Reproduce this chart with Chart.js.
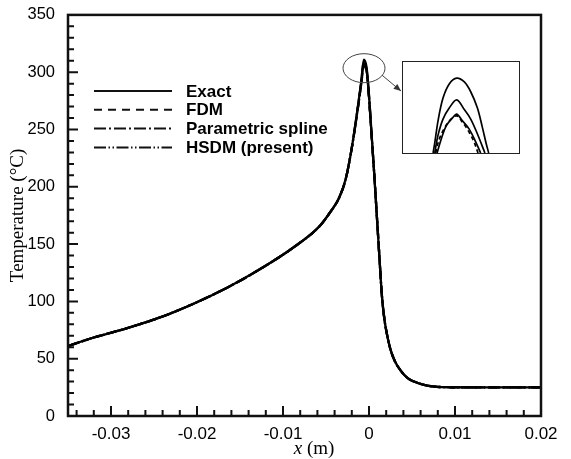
<html lang="en">
  <head>
    <meta charset="utf-8">
    <title>Temperature profile</title>
    <style>
      body { margin: 0; background: white; }
      .chartBox { position: relative; width: 571px; height: 459px; background: white; }
      .insetBox {
        position: absolute; left: 402px; top: 61px;
        width: 116px; height: 91px;
        border: 1.5px solid #222; background: white;
      }
    </style>
  </head>
  <body>
    <div class="chartBox">
      <canvas id="myChart" width="571" height="459"></canvas>
      <div class="insetBox"><canvas id="insetChart" width="116" height="91"></canvas></div>
    </div>

    <script src="https://cdn.jsdelivr.net/npm/chart.js/dist/chart.umd.min.js"></script>
    <script>
    // data
    const xs = [-0.035, -0.032, -0.0282, -0.0243, -0.0204, -0.0165, -0.0127, -0.0088, -0.0057, -0.0045,
                -0.0035, -0.0027, -0.0020, -0.0014, -0.0009, -0.0006, -0.0003, -0.0001, 0.0003, 0.0006,
                0.0009, 0.0012, 0.0015, 0.0018, 0.0021, 0.0025, 0.0030, 0.0036, 0.0045, 0.0056,
                0.0068, 0.0079, 0.0095, 0.012, 0.016, 0.020];
    const exact = [61, 68.5, 76.5, 86, 98, 112, 128, 147, 166, 178,
                   190, 207, 234, 264, 292, 311, 305, 290, 246, 212,
                   176, 140, 105, 84, 71, 58, 48, 40.5, 33, 29,
                   26.5, 25.5, 25.1, 25, 25, 25];
    const fdm = [61, 68.5, 76.5, 86, 98, 112, 128, 147, 166, 178,
                 190, 207, 234, 263, 290, 306, 301, 287, 245, 212,
                 176, 140, 105, 84, 71, 58, 48, 40.5, 33, 29,
                 26.5, 25.5, 25.1, 25, 25, 25];
    const spline = [61, 68.5, 76.5, 86, 98, 112, 128, 147, 166, 178,
                    190, 207, 234, 264, 291, 309, 303, 289, 246, 212,
                    176, 140, 105, 84, 71, 58, 48, 40.5, 33, 29,
                    26.5, 25.5, 25.1, 25, 25, 25];
    const hsdm = [61, 68.5, 76.5, 86, 98, 112, 128, 147, 166, 178,
                  190, 207, 234, 263, 290, 307, 302, 288, 245, 212,
                  176, 140, 105, 84, 71, 58, 48, 40.5, 33, 29,
                  26.5, 25.5, 25.1, 25, 25, 25];
    const labels = ['Exact', 'FDM', 'Parametric spline', 'HSDM (present)'];
    const xTicks = [-0.03, -0.02, -0.01, 0, 0.01, 0.02];
    const yTicks = [0, 50, 100, 150, 200, 250, 300, 350];

    // zoomed peak (inset)
    const insetExactX = [-0.00173, -0.00166, -0.00152, -0.00131, -0.00104, -0.00073, -0.00041, -0.00014, 0.00014, 0.00035, 0.00051, 0.00062];
    const insetExactY = [291, 293.8, 300.2, 306.7, 310.8, 312.4, 311.3, 308.5, 303.9, 298.4, 293.8, 291];
    const insetSplineX = [-0.00166, -0.00152, -0.00131, -0.00104, -0.00073, -0.00041, -0.00014, 0.00014, 0.00046];
    const insetSplineY = [291, 296.1, 300.7, 303.9, 306.2, 303.4, 300.7, 296.5, 291];
    const insetHsdmX = [-0.00156, -0.00138, -0.00117, -0.0009, -0.00073, -0.00049, -0.00021, 0.00007, 0.00028];
    const insetHsdmY = [291, 295.1, 298.8, 301.1, 302.1, 300.2, 297.9, 294.2, 291];
    const insetFdmX = [-0.00162, -0.00148, -0.00124, -0.00097, -0.00073, -0.00049, -0.00021, 0, 0.00017];
    const insetFdmY = [291, 294.7, 298.2, 300.7, 301.6, 299.8, 297, 294.2, 291];

    const dashes = [[], [8, 6], [12, 3, 2, 3], [12, 2.5, 1.5, 2.5, 1.5, 2.5]];
    const pts = (a, b) => a.map((x, i) => ({x: x, y: b[i]}));

    Chart.defaults.color = '#000';
    Chart.defaults.font.family = '"Liberation Sans", Arial, sans-serif';

    // ticks, frame, legend, circle and arrow
    const decor = {
      id: 'decor',
      afterDraw(chart) {
        const {ctx, chartArea: a, scales: {x, y}} = chart;
        ctx.save();
        ctx.strokeStyle = '#111';
        ctx.lineWidth = 2.5;
        ctx.strokeRect(a.left, a.top, a.right - a.left, a.bottom - a.top);

        ctx.lineWidth = 2;
        ctx.beginPath();
        for (let v = 0; v <= 350; v += 10) {
          const p = y.getPixelForValue(v), len = v % 50 === 0 ? 10 : 6;
          ctx.moveTo(a.left, p); ctx.lineTo(a.left + len, p);
        }
        for (let k = -34; k <= 20; k += 2) {
          const p = x.getPixelForValue(k / 1000), len = k % 10 === 0 ? 10 : 6;
          ctx.moveTo(p, a.bottom); ctx.lineTo(p, a.bottom - len);
        }
        ctx.stroke();

        // x title with italic x
        ctx.fillStyle = '#000';
        ctx.textBaseline = 'alphabetic';
        const serif = '"Liberation Serif", "Times New Roman", serif';
        ctx.font = 'italic 19px ' + serif;
        const w1 = ctx.measureText('x').width;
        ctx.font = '19px ' + serif;
        const w2 = ctx.measureText(' (m)').width;
        const x0 = 314 - (w1 + w2) / 2;
        ctx.font = 'italic 19px ' + serif;
        ctx.fillText('x', x0, 454);
        ctx.font = '19px ' + serif;
        ctx.fillText(' (m)', x0 + w1, 454);

        // legend
        ctx.font = 'bold 17px "Liberation Sans", Arial, sans-serif';
        ctx.textBaseline = 'middle';
        labels.forEach((t, i) => {
          const yy = 91 + i * 18.8;
          ctx.setLineDash(dashes[i]);
          ctx.lineWidth = 2;
          ctx.beginPath(); ctx.moveTo(94, yy); ctx.lineTo(172, yy); ctx.stroke();
          ctx.setLineDash([]);
          ctx.fillText(t, 186, yy + 1);
        });

        // circle around the peak and arrow to the inset
        const cx = x.getPixelForValue(-0.00058), cy = y.getPixelForValue(303.5);
        ctx.lineWidth = 1;
        ctx.strokeStyle = '#444';
        ctx.beginPath(); ctx.ellipse(cx, cy, 21, 14.5, 0, 0, Math.PI * 2); ctx.stroke();
        const ax = cx + 18, ay = cy + 7, bx = 401, by = 91;
        ctx.beginPath(); ctx.moveTo(ax, ay); ctx.lineTo(bx, by); ctx.stroke();
        const ang = Math.atan2(by - ay, bx - ax);
        ctx.fillStyle = '#333';
        ctx.beginPath();
        ctx.moveTo(bx, by);
        ctx.lineTo(bx - 8 * Math.cos(ang - 0.4), by - 8 * Math.sin(ang - 0.4));
        ctx.lineTo(bx - 8 * Math.cos(ang + 0.4), by - 8 * Math.sin(ang + 0.4));
        ctx.closePath(); ctx.fill();
        ctx.restore();
      }
    };

    const series = [exact, fdm, spline, hsdm];
    const myChart = new Chart(document.getElementById('myChart'), {
      type: 'line',
      data: {
        datasets: series.map((s, i) => ({
          label: labels[i],
          data: pts(xs, s),
          borderColor: '#000',
          borderWidth: 2.3,
          borderDash: dashes[i],
          pointRadius: 0,
          cubicInterpolationMode: 'monotone'
        }))
      },
      options: {
        responsive: false,
        animation: false,
        layout: {padding: {top: 14, right: 30, left: 0, bottom: 0}},
        plugins: {legend: {display: false}, tooltip: {enabled: false}},
        scales: {
          x: {
            type: 'linear', min: -0.035, max: 0.02,
            grid: {display: false}, border: {display: false},
            afterBuildTicks: (s) => { s.ticks = xTicks.map(v => ({value: v})); },
            afterFit: (s) => { s.height = 43; },
            ticks: {padding: 0, font: {size: 17}, callback: (v) => String(v)}
          },
          y: {
            min: 0, max: 350,
            grid: {display: false}, border: {display: false},
            afterBuildTicks: (s) => { s.ticks = yTicks.map(v => ({value: v})); },
            afterFit: (s) => { s.width = 68; },
            ticks: {padding: 5, font: {size: 16.5}},
            title: {display: true, text: 'Temperature (°C)', padding: {top: 7, bottom: 0},
                    font: {family: '"Liberation Serif", "Times New Roman", serif', size: 19}}
          }
        }
      },
      plugins: [decor]
    });

    const inset = new Chart(document.getElementById('insetChart'), {
      type: 'line',
      data: {
        datasets: [
          {data: pts(insetExactX, insetExactY), borderDash: []},
          {data: pts(insetSplineX, insetSplineY), borderDash: []},
          {data: pts(insetHsdmX, insetHsdmY), borderDash: []},
          {data: pts(insetFdmX, insetFdmY), borderDash: [4, 3]}
        ].map(d => Object.assign(d, {borderColor: '#000', borderWidth: 1.7, pointRadius: 0, tension: 0.35}))
      },
      options: {
        responsive: false,
        animation: false,
        layout: {padding: 0},
        plugins: {legend: {display: false}, tooltip: {enabled: false}},
        scales: {
          x: {type: 'linear', min: -0.003, max: 0.0019, display: false},
          y: {min: 291, max: 317, display: false}
        }
      }
    });
    </script>
  </body>
</html>
